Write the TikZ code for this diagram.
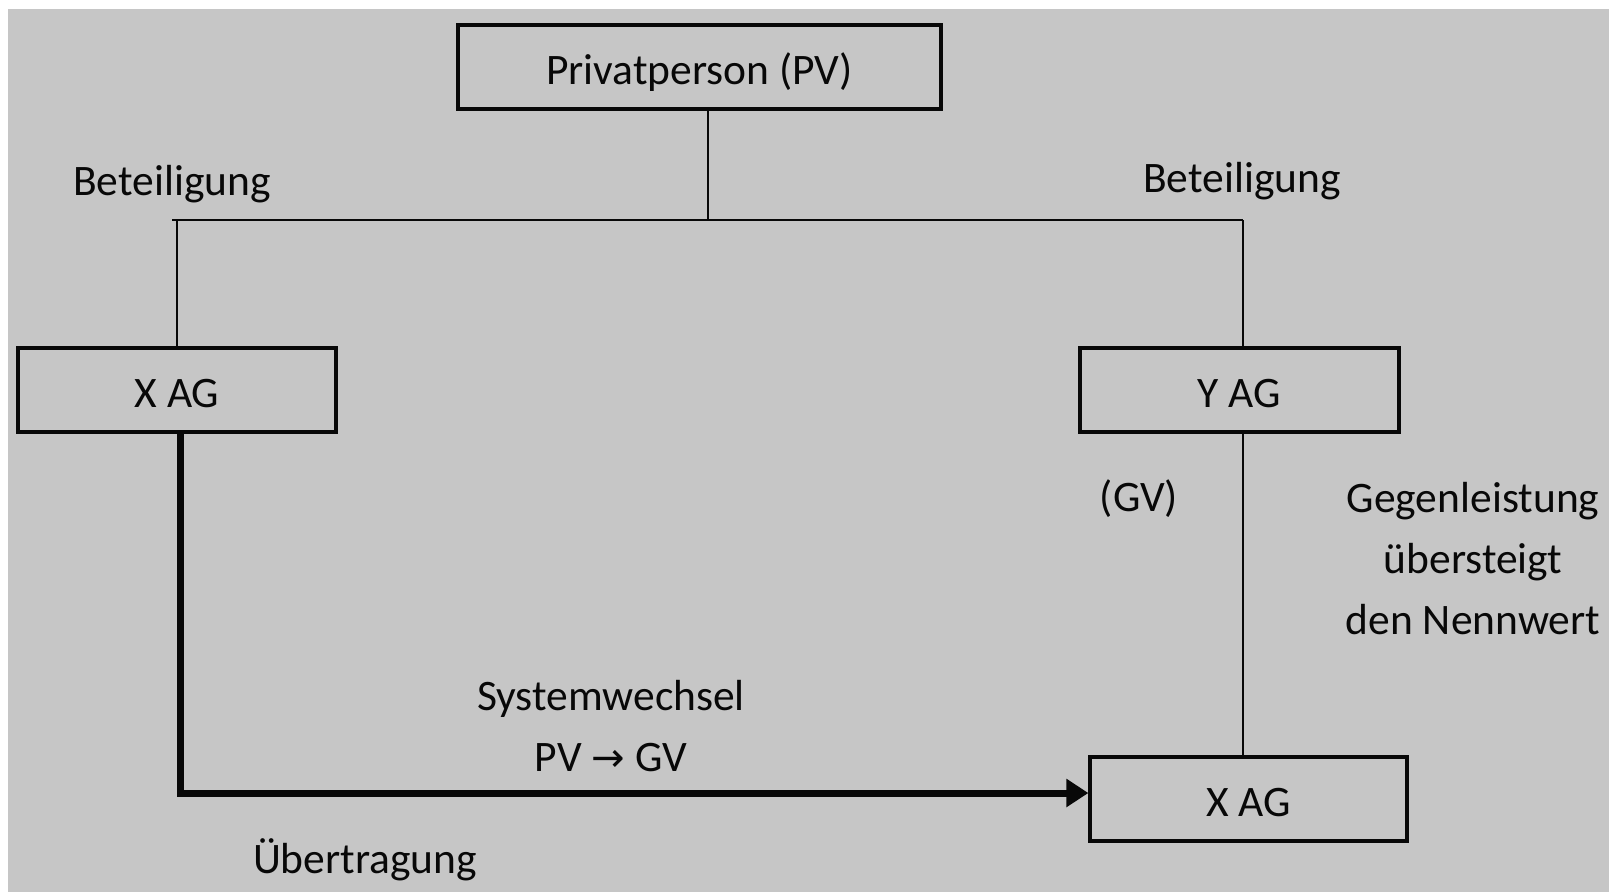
\documentclass[tikz,border=0pt]{standalone}
\usepackage{fontspec}
\setmainfont{Carlito}
\newfontfamily\arrowfont{DejaVu Sans}
\usetikzlibrary{arrows.meta}
\definecolor{bg}{RGB}{198,198,198}
\definecolor{ink}{RGB}{8,8,8}
\tikzset{
  box/.style={draw=ink, line width=3.2pt, minimum height=84pt, inner sep=0pt, text height=40pt, text depth=6pt, font=\fontsize{43.5}{52}\selectfont, text=ink},
  lbl/.style={font=\fontsize{43.5}{52}\selectfont, text=ink, inner sep=0pt, yshift=-3pt},
  conn/.style={draw=ink, line width=2.8pt},
  thick arrow/.style={draw=ink, line width=7pt, -{Triangle[length=22pt,width=27pt]}}
}
\begin{document}
\begin{tikzpicture}[x=1pt,y=-1pt]
\useasboundingbox (0,0) rectangle (1609,892);
\fill[white] (0,0) rectangle (1609,892);
\fill[bg] (8,9) rectangle (1609,892);
% boxes
\node[box, minimum width=483pt] (pp) at (699.5,67) {Privatperson (PV)};
\node[box, minimum width=318pt] (xl) at (177,390) {X AG};
\node[box, minimum width=319pt] (ya) at (1239.5,390) {Y AG};
\node[box, minimum width=317pt] (xb) at (1248.5,799) {X AG};
% junctions
\coordinate (j) at (708,220);
\coordinate (jl) at (172,220);
\coordinate (jr) at (1243,220);
\coordinate (ta) at (180,432);
\coordinate (tb) at (180,793);
% connectors
\draw[conn] (pp.south -| j) -- (j);
\draw[conn] (jl) -- (jr);
\draw[conn] (xl.north) -- (xl.north |- jl);
\draw[conn] (ya.north -| jr) -- (jr);
\draw[conn] (ya.south -| jr) -- (xb.north -| jr);
\draw[thick arrow] (xl.south -| ta) -- (tb) -- (tb -| xb.west);
% labels
\node[lbl] (b1) at (172,181) {Beteiligung};
\node[lbl] (b2) at (1242,178) {Beteiligung};
\node[lbl] (gv) at (1139,496) {(GV)};
\node[lbl, align=center, font=\fontsize{43.5}{61}\selectfont] (gl) at (1473,556) {Gegenleistung\\übersteigt\\den Nennwert};
\node[lbl, align=center, font=\fontsize{43.5}{61}\selectfont] (sw) at (611,723) {Systemwechsel\\PV {\arrowfont\fontsize{40}{40}\selectfont →} GV};
\node[lbl] (ub) at (365,857) {Übertragung};
\end{tikzpicture}
\end{document}
